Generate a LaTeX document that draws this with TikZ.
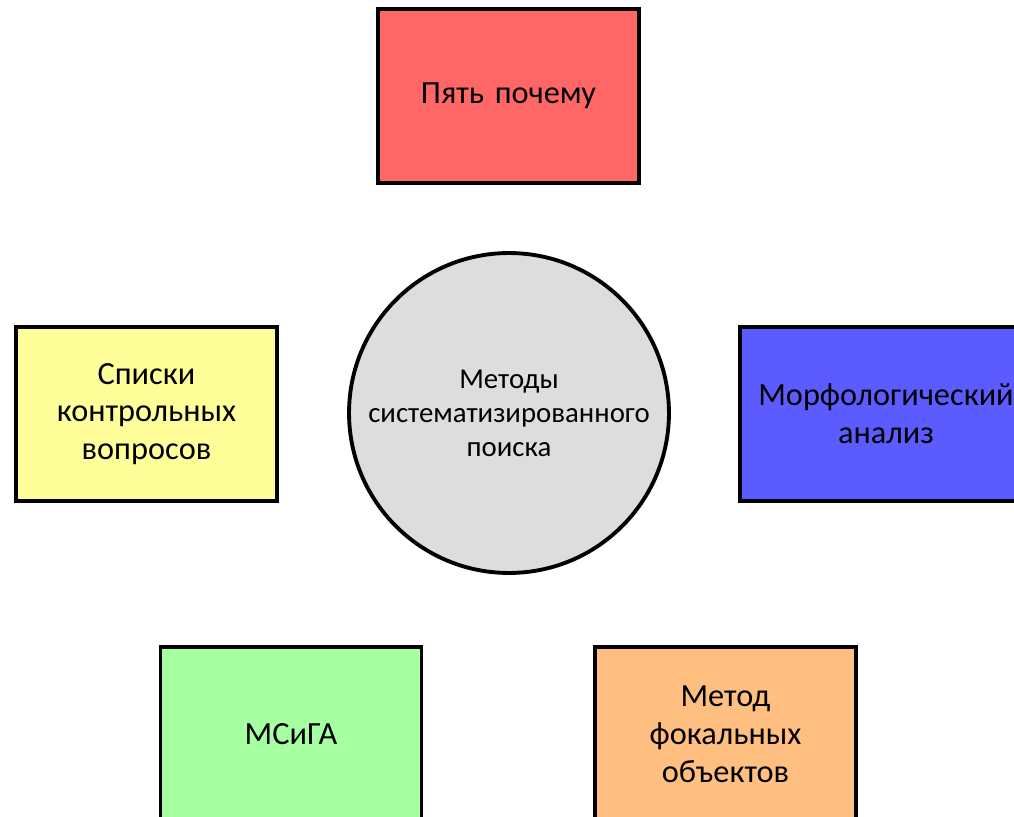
\documentclass[tikz,border=0pt]{standalone}
\usepackage{fontspec}
\setmainfont{Carlito}
\usepackage{tikz}
\usetikzlibrary{positioning}
\definecolor{redbox}{HTML}{FF6666}
\definecolor{yellowbox}{HTML}{FFFF99}
\definecolor{bluebox}{HTML}{5B5BFF}
\definecolor{greenbox}{HTML}{A6FFA1}
\definecolor{orangebox}{HTML}{FFBF80}
\definecolor{greycirc}{HTML}{DDDDDD}
\begin{document}
\begin{tikzpicture}[x=0.02cm,y=-0.02cm,font=\fontsize{18.4}{21.5}\selectfont,box/.style={draw=black,line width=2.2pt,align=center,minimum width=5.22cm,minimum height=3.48cm,text width=5cm,inner sep=0pt,fill=#1},box/.default=white,hub/.style={draw=black,line width=2.2pt,circle,minimum size=6.4cm,align=center,inner sep=0pt,fill=greycirc,font=\fontsize{16.4}{19.3}\selectfont}]
\useasboundingbox (0,0) rectangle (1014,817);
\clip (0,0) rectangle (1014,817);
\node[hub](m) at (509,413){Методы\\систематизированного\\поиска};
\node[box=redbox](p) at (508.5,96){Пять почему};
\node[box=yellowbox](s) at (146.5,414){Списки\\контрольных\\вопросов};
\node[box=bluebox,minimum width=5.84cm,text width=5.7cm](a) at (886,414){Морфологический\\анализ};
\node[box=greenbox](g) at (291,734){МСиГА};
\node[box=orangebox](f) at (725.5,734){Метод\\фокальных\\объектов};
\end{tikzpicture}
\end{document}
